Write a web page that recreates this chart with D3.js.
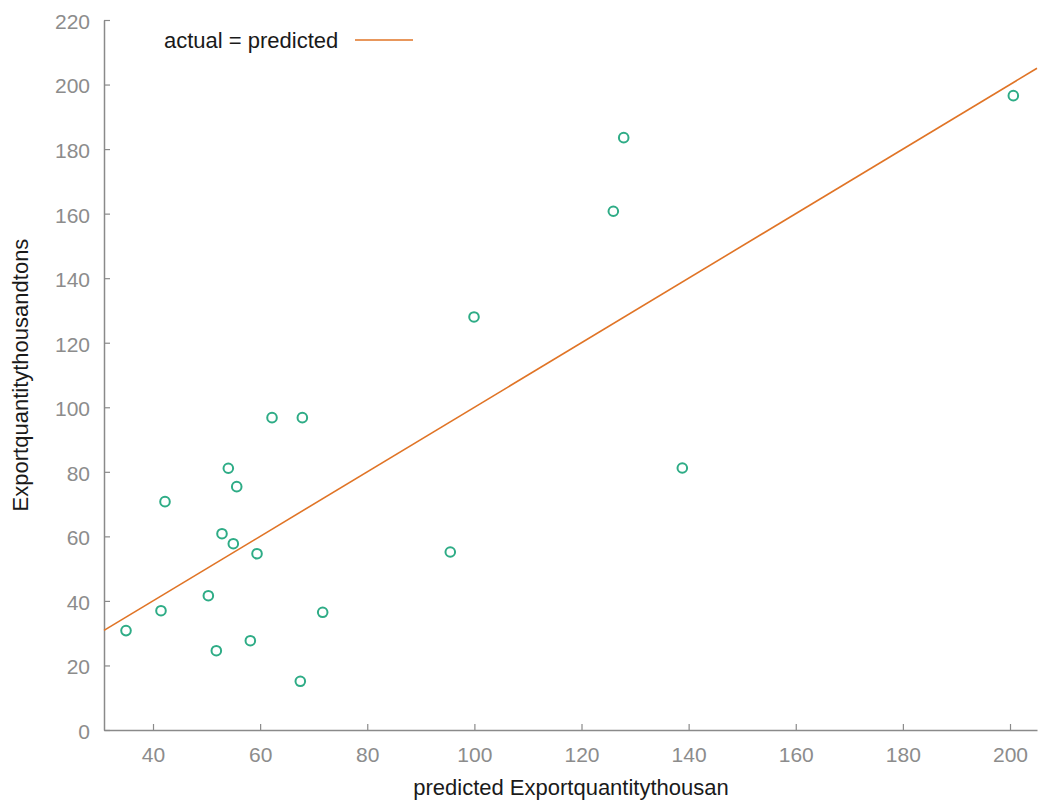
<!DOCTYPE html>
<html>
<head>
<meta charset="utf-8">
<script src="https://cdn.jsdelivr.net/npm/d3@7"></script>
<style>
  body { margin: 0; background: #fff; }
  svg { display: block; font-family: "Liberation Sans", Arial, sans-serif; }
</style>
</head>
<body>
<svg id="chart"></svg>
<script>
// predicted vs actual export quantity (thousand tons)
var predicted = [34.96, 41.49, 42.24, 50.33, 51.82, 52.88, 54.06, 54.99, 55.63, 58.17, 59.42,
                 62.22, 67.88, 67.5, 71.68, 95.5, 99.93, 125.94, 127.88, 138.82, 200.62];
var actual    = [30.8, 36.97, 70.75, 41.62, 24.57, 60.83, 81.1, 57.73, 75.4, 27.67, 54.63,
                 96.78, 96.78, 15.09, 36.47, 55.16, 127.98, 160.74, 183.54, 81.19, 196.56];
var xTicks = [40, 60, 80, 100, 120, 140, 160, 180, 200];
var yTicks = [0, 20, 40, 60, 80, 100, 120, 140, 160, 180, 200, 220];
var xDomain = [30.85, 205.04];
var yDomain = [0, 220];

var width = 1059, height = 803;
var margin = {top: 20, right: 22, bottom: 73, left: 104};

var svg = d3.select('#chart')
    .attr('width', width)
    .attr('height', height);

var x = d3.scaleLinear(xDomain, [margin.left, width - margin.right]);
var y = d3.scaleLinear(yDomain, [height - margin.bottom, margin.top]);

var axisColor = '#8a8a8a';

// x axis, ticks pointing inward
var gx = svg.append('g')
    .attr('transform', `translate(0,${height - margin.bottom})`)
    .call(d3.axisBottom(x).tickValues(xTicks).tickSizeInner(-6).tickSizeOuter(0).tickPadding(13));

// y axis
var gy = svg.append('g')
    .attr('transform', `translate(${margin.left},0)`)
    .call(d3.axisLeft(y).tickValues(yTicks).tickSizeInner(-6).tickSizeOuter(0).tickPadding(14));

[gx, gy].forEach(g => {
  g.select('.domain').attr('stroke', axisColor).attr('stroke-width', 1.5);
  g.selectAll('.tick line').attr('stroke', axisColor).attr('stroke-width', 1.2);
  g.selectAll('.tick text')
    .attr('fill', '#8c8c8c')
    .style('font-size', '21px')
    .style('font-family', '"Liberation Sans", Arial, sans-serif');
});
gx.selectAll('.tick text').attr('dy', '0.9em');
gy.selectAll('.tick text').attr('dy', '0.4em');

// actual = predicted line
var lineData = [xDomain[0], xDomain[1]];
svg.append('path')
    .datum(lineData)
    .attr('fill', 'none')
    .attr('stroke', '#e07426')
    .attr('stroke-width', 1.6)
    .attr('d', d3.line().x(d => x(d)).y(d => y(d)));

// points
svg.append('g')
    .selectAll('circle')
    .data(predicted.map((p, i) => [p, actual[i]]))
    .join('circle')
    .attr('cx', d => x(d[0]))
    .attr('cy', d => y(d[1]))
    .attr('r', 4.8)
    .attr('fill', 'none')
    .attr('stroke', '#2eac86')
    .attr('stroke-width', 2);

// legend
svg.append('text')
    .attr('x', 164)
    .attr('y', 48)
    .attr('fill', '#1a1a1a')
    .style('font-size', '22px')
    .text('actual = predicted');
svg.append('line')
    .attr('x1', 355).attr('x2', 413)
    .attr('y1', 40).attr('y2', 40)
    .attr('stroke', '#e07426')
    .attr('stroke-width', 1.6);

// axis titles
svg.append('text')
    .attr('x', 571)
    .attr('y', 795)
    .attr('text-anchor', 'middle')
    .attr('fill', '#1a1a1a')
    .style('font-size', '22px')
    .text('predicted Exportquantitythousan');

svg.append('text')
    .attr('transform', 'translate(28,375) rotate(-90)')
    .attr('text-anchor', 'middle')
    .attr('fill', '#1a1a1a')
    .style('font-size', '22px')
    .text('Exportquantitythousandtons');
</script>
</body>
</html>
